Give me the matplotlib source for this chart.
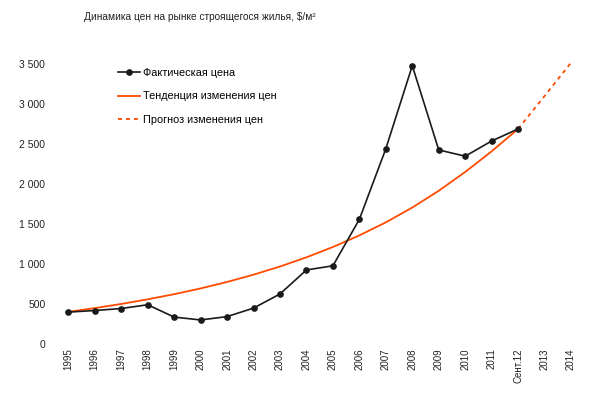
import matplotlib
matplotlib.use("Agg")
import matplotlib.pyplot as plt
from matplotlib.lines import Line2D

plt.rcParams['font.family'] = ['Liberation Sans Narrow', 'Liberation Sans', 'DejaVu Sans']

labels = ["1995", "1996", "1997", "1998", "1999", "2000", "2001", "2002", "2003", "2004",
          "2005", "2006", "2007", "2008", "2009", "2010", "2011", "Сент.12", "2013", "2014"]
actual = [398, 418, 443, 490, 336, 300, 342, 448, 625, 925,
          977, 1558, 2440, 3478, 2425, 2347, 2537, 2688]
trend = [402, 448, 500, 558, 622, 694, 775, 866, 968, 1083,
         1212, 1357, 1520, 1705, 1915, 2150, 2408, 2688]
forecast_labels_idx = [17, 18, 19]
forecast = [2688, 3100, 3516]

title = "Динамика цен на рынке строящегося жилья, $/м²"
legend_labels = ["Фактическая цена", "Тенденция изменения цен", "Прогноз изменения цен"]
yticks = [0, 500, 1000, 1500, 2000, 2500, 3000, 3500]
ytick_labels = ["0", "500", "1 000", "1 500", "2 000", "2 500", "3 000", "3 500"]

orange = "#FF4A00"

fig = plt.figure(figsize=(6.0, 3.94), dpi=100)
ax = fig.add_axes([0.0918, 0.127, 0.882, 0.731])

x_act = list(range(len(actual)))
x_tr = list(range(len(trend)))
ax.plot(x_tr, trend, color=orange, lw=1.3, solid_capstyle='round')
ax.plot(forecast_labels_idx, forecast, color=orange, lw=1.3, ls=(0, (2.2, 2.2)))
ax.plot(x_act, actual, color="#1a1a1a", lw=1.2, marker="o", ms=3.8, clip_on=False, zorder=3)

ax.set_xlim(-0.5, 19.5)
ax.set_ylim(0, 3600)
ax.set_yticks(yticks)
ax.set_yticklabels(ytick_labels, fontsize=7.5)
ax.set_xticks(range(len(labels)))
ax.set_xticklabels(labels, rotation=90, fontsize=7.0)
ax.tick_params(axis='both', length=0, colors="#222222")
ax.tick_params(axis='x', pad=3)
ax.tick_params(axis='y', pad=7)
for s in ax.spines.values():
    s.set_visible(False)

fig.text(0.333, 0.957, title, usetex=False, fontsize=7.3, ha='center', va='center', color="#222222")

handles = [
    Line2D([], [], color="#1a1a1a", lw=1.2, marker="o", ms=3.8),
    Line2D([], [], color=orange, lw=1.3),
    Line2D([], [], color=orange, lw=1.3, ls=(0, (2.2, 2.2))),
]
leg = fig.legend(handles, legend_labels, loc='upper left', bbox_to_anchor=(0.19, 0.838),
                 frameon=False, fontsize=7.8, handlelength=2.0, handletextpad=0.3,
                 labelspacing=1.22, borderaxespad=0)

fig.savefig("out.png", dpi=100)
